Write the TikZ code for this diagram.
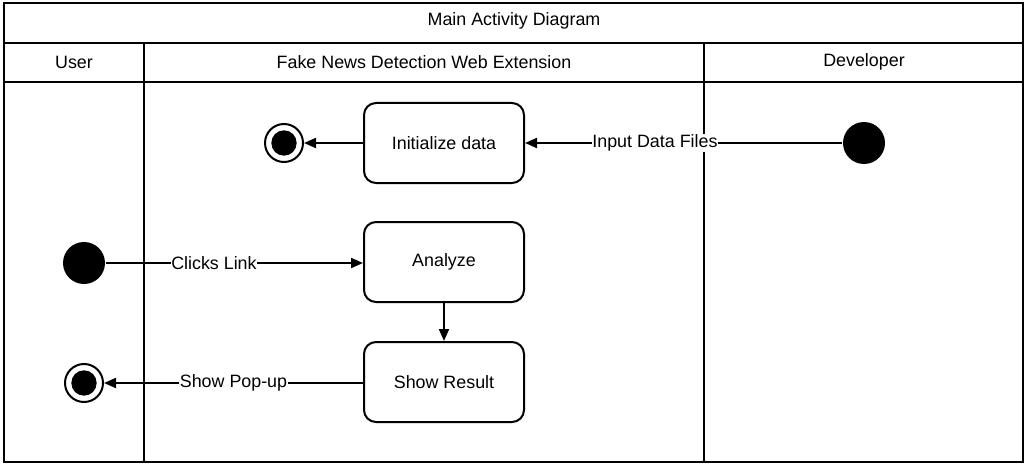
\documentclass[tikz,border=0pt]{standalone}
\usepackage{fontspec}
\setmainfont{Liberation Sans}
\usepackage{tikz}
\usetikzlibrary{arrows.meta, positioning}

\begin{document}
\begin{tikzpicture}[x=0.75pt, y=-0.75pt, line width=1.5pt,
        font=\fontsize{13.4}{16}\selectfont,
        action/.style={draw, rounded corners=9pt, minimum width=120pt, minimum height=60pt},
        startnode/.style={circle, fill=black, minimum size=31.5pt, inner sep=0pt},
        endnode/.style={circle, draw, fill=white, line width=1.5pt, minimum size=28.5pt, inner sep=0pt,
            path picture={\fill[black] (path picture bounding box.center) circle (9.5pt);}},
        flow/.style={-{Triangle[length=9pt, width=7.5pt]}},
        lbl/.style={fill=white, inner sep=0.5pt}]
        \useasboundingbox (0,0) rectangle (1028,467);

        % Draw the swimlanes
        \draw (4,3) rectangle (1023,462);
        \draw (4,43) -- (1023,43);
        \draw (4,82) -- (1023,82);
        \draw (144,43) -- (144,462);
        \draw (704,43) -- (704,462);
        \node (title) at (514,21) {Main Activity Diagram};
        \node (user) at (74,62) {User};
        \node (ext) at (424,62) {Fake News Detection Web Extension};
        \node (dev) at (864,62) {Developer};

        % Place actions
        \node[action] (init) at (444,143) {Initialize data};
        \node[action] (analyze) at (444,262) {Analyze};
        \node[action] (result) at (444,382) {Show Result};

        % Place start and end points
        \node[startnode] (devstart) at (864,143) {};
        \node[endnode] (initend) at (284,143) {};
        \node[startnode] (userstart) at (84,263) {};
        \node[endnode] (userend) at (84,383) {};

        % Draw the flows
        \draw[flow] (devstart) -- node[lbl, pos=0.59] {Input Data Files} (init);
        \draw[flow] (init) -- (initend);
        \draw[flow] (userstart) -- node[lbl, pos=0.42] {Clicks Link} (analyze.west |- userstart);
        \draw[flow] (analyze) -- (result);
        \draw[flow] (result.west |- userend) -- node[lbl, pos=0.5] {Show Pop-up} (userend);
    \end{tikzpicture}
\end{document}
